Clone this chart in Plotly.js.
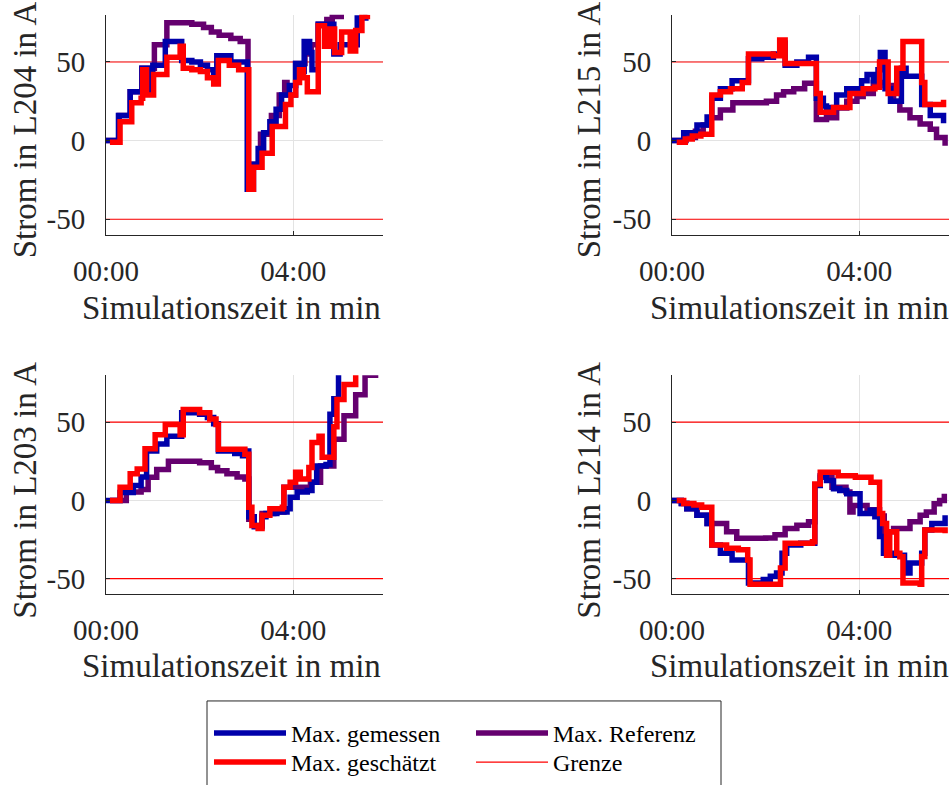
<!DOCTYPE html>
<html>
<head>
<meta charset="utf-8">
<script src="https://cdn.plot.ly/plotly-3.0.1.min.js"></script>
<style>html,body{margin:0;padding:0;background:#fff;}#chart{width:949px;height:785px;}</style>
</head>
<body>
<div id="chart"></div>
<script>
// ---------- data (time in seconds, current in A) ----------
const xTickVals = [0, 240];
const xTickText = ['00:00', '04:00'];
const yTickVals = [-50, 0, 50];
const yTickText = ['-50', '0', '50'];
const limitValues = [50, -50];
const limitSpan = [0, 360];

const seriesNames = ['Max. Referenz', 'Max. gemessen', 'Max. geschätzt', 'Grenze'];
const xTitle = 'Simulationszeit in min';
const panelTitles = ['Strom in L204 in A', 'Strom in L215 in A', 'Strom in L203 in A', 'Strom in L214 in A'];

// L204
const L204_ref_t = [0, 17, 31, 46, 62, 78, 110, 125, 135, 145, 160, 172, 182, 198, 212, 222, 229, 232, 243, 255, 263, 272, 283, 290, 305];
const L204_ref   = [0, 16, 31, 46, 61, 75, 74, 72, 69, 67, 65, 63, -15, 4, 16, 29, 37, 29, 49, 55, 61, 74, 77, 79, 79];
const L204_mes_t = [0, 16, 31, 46, 54, 60, 76, 97, 110, 121, 130, 138, 142, 160, 181, 189, 195, 202, 210, 218, 225, 235, 243, 250, 254, 261, 264, 272, 292, 300, 322, 333];
const L204_mes   = [0, 16, 31, 46, 30, 48, 63, 51, 50, 48, 45, 41, 54, 50, -31, -15, -5, 5, 12, 20, 29, 35, 49, 44, 63, 56, 45, 74, 55, 61, 78, 80];
const L204_est_t = [5, 18, 33, 45, 47, 52, 61, 78, 95, 99, 110, 121, 130, 138, 144, 158, 170, 183, 189, 200, 213, 230, 237, 243, 248, 253, 258, 272, 280, 287, 293, 302, 313, 320, 328, 335];
const L204_est   = [-1, 12, 24, 27, 45, 29, 42, 53, 60, 46, 45, 44, 40, 36, 51, 48, 45, -31, -17, -8, 9, 23, 29, 37, 45, 40, 31, 73, 60, 71, 56, 69, 57, 70, 79, 80];

// L215
const L215_ref_t = [0, 18, 30, 40, 49, 62, 78, 121, 134, 143, 156, 170, 185, 198, 211, 224, 237, 245, 258, 273, 284, 292, 305, 318, 331, 339, 350];
const L215_ref   = [0, 2, 6, 10, 14.5, 19.5, 24, 25, 29, 31, 33, 36.5, 13.5, 14.5, 20.7, 25, 28, 30, 37, 35, 25, 19.5, 14.5, 10.5, 7.3, 2, -3.3];
const L215_mes_t = [0, 15, 32, 45, 51, 62, 77, 98, 115, 130, 139, 145, 160, 175, 185, 194, 198, 203, 211, 224, 243, 250, 258, 264, 267, 273, 280, 294, 300, 320, 331, 348];
const L215_mes   = [0, 5, 10, 15, 27, 33, 38, 52, 53, 55, 62, 48, 50, 53, 27, 22, 18, 21, 29, 33, 38, 42, 38, 45, 56, 33, 25, 46, 41, 23, 16, 11];
const L215_est_t = [6, 17, 26, 37, 51, 62, 75, 90, 98, 130, 138, 145, 185, 190, 207, 228, 245, 260, 266, 277, 288, 296, 320, 324, 348];
const L215_est   = [-1, 1, 3, 4, 29, 31, 33, 37, 55, 54, 64, 49, 30, 18, 21, 30, 33, 34, 50, 30, 46, 63, 37, 23, 26];

// L203
const L203_ref_t = [5, 26, 45, 54, 65, 80, 120, 135, 143, 155, 168, 178, 183, 190, 200, 215, 228, 245, 262, 275, 292, 305, 320, 332, 349];
const L203_ref   = [0, 5.3, 7, 14.8, 19.8, 25, 24, 21, 19, 17, 15, 13.7, -12, -16, -8.4, -7.4, 8.4, 8.4, 11.6, 22, 39, 54, 67.5, 80, 80];
const L203_mes_t = [0, 18, 35, 45, 52, 65, 78, 97, 120, 130, 138, 144, 165, 175, 181, 183, 190, 200, 205, 219, 232, 236, 245, 258, 264, 270, 282, 287, 292, 298];
const L203_mes   = [0, 5, 9.5, 15, 31.6, 36, 41, 56, 55, 53, 49, 31.6, 30, 28.5, 31.6, -10.5, -16.8, -10.5, -8.4, -7.4, -5.3, 2, 5.3, 6.3, 11.6, 22, 23, 55, 65, 82];
const L203_est_t = [5, 18, 31, 40, 50, 63, 76, 91, 95, 99, 120, 133, 141, 144, 178, 183, 187, 195, 200, 210, 226, 228, 236, 243, 249, 260, 264, 273, 277, 292, 296, 305, 320];
const L203_est   = [0, 8.4, 17, 20, 33, 42, 48.5, 48.5, 42, 58, 56, 52, 48.5, 32.7, 29.5, -4.4, -16, -18, -9.5, -5.3, -4.4, 8.4, 11.6, 18, 13.7, 21, 37, 41, 27.5, 47, 64.5, 74, 82];

// L214
const L214_ref_t = [0, 12, 19, 32, 45, 70, 83, 120, 132, 145, 160, 175, 183, 190, 205, 223, 228, 232, 250, 266, 272, 284, 305, 318, 326, 336, 343, 349];
const L214_ref   = [0, -2, -5.3, -9.5, -14.8, -20, -24.1, -24, -22, -17.9, -15.8, -13.7, 10, 14.8, 8.4, 5.3, -7.4, -3.2, -6, -10, -20, -17.9, -13.7, -9.5, -7.4, -2.1, 0, 4.2];
const L214_mes_t = [0, 12, 19, 32, 45, 51, 62, 77, 98, 117, 126, 134, 141, 147, 165, 183, 190, 198, 207, 215, 224, 241, 254, 260, 266, 271, 285, 298, 305, 320, 324, 333, 343, 350];
const L214_mes   = [0, -2, -5.3, -9.5, -14.8, -28.5, -33.8, -38, -52.7, -50.6, -48.5, -46.4, -33.8, -28.5, -27.4, 9.5, 15.8, 12.7, 7.4, 6.3, 4.2, -8.4, -6.3, -10.5, -23, -33.8, -35, -46.4, -40, -33.8, -18.9, -14.8, -14.8, -9.5];
const L214_est_t = [6, 15, 28, 38, 51, 70, 85, 97, 100, 139, 145, 180, 183, 190, 213, 235, 255, 266, 270, 275, 279, 288, 292, 296, 318, 320, 324, 350];
const L214_est   = [0, -2, -3, -4.4, -28.5, -30.6, -31.6, -38, -53.6, -43.2, -27.4, -26.4, 10.5, 18, 15.8, 14.8, 11.6, -8.4, -14.8, -35, -20, -33.8, -36, -52.7, -53.6, -35.9, -18.9, -21];

// ---------- styles ----------
const colors = {ref: '#65006f', mes: '#0000aa', est: '#ff0000', lim: '#ff0000'};
const FONT = 'Liberation Serif, Times New Roman, serif';
const TXT = '#262626';

const panels = [
  {title: panelTitles[0], ref: [L204_ref_t, L204_ref], mes: [L204_mes_t, L204_mes], est: [L204_est_t, L204_est]},
  {title: panelTitles[1], ref: [L215_ref_t, L215_ref], mes: [L215_mes_t, L215_mes], est: [L215_est_t, L215_est]},
  {title: panelTitles[2], ref: [L203_ref_t, L203_ref], mes: [L203_mes_t, L203_mes], est: [L203_est_t, L203_est]},
  {title: panelTitles[3], ref: [L214_ref_t, L214_ref], mes: [L214_mes_t, L214_mes], est: [L214_est_t, L214_est]}
];

const W = 949, H = 785;
const xDomains = [[106 / W, 383 / W], [672 / W, 1], [106 / W, 383 / W], [672 / W, 1]];
const yDomains = [[1 - 238 / H, 1 - 15 / H], [1 - 238 / H, 1 - 15 / H], [1 - 602 / H, 1 - 380 / H], [1 - 602 / H, 1 - 380 / H]];
// title centres (px)
const xTitlePos = [[231, 312], [799, 312], [231, 675], [799, 675]];
const yTitlePos = [[25, 132], [589, 132], [25, 497], [589, 497]];

const traces = [];
const legendBase = {xanchor: 'left', yanchor: 'top', orientation: 'h',
  bgcolor: 'rgba(0,0,0,0)', borderwidth: 0, font: {family: FONT, size: 24, color: '#000'},
  itemwidth: 72, tracegroupgap: 0, traceorder: 'normal', entrywidth: 175, entrywidthmode: 'pixels'};
const layout = {
  width: W, height: H,
  margin: {l: 0, r: 0, t: 0, b: 0, pad: 0},
  paper_bgcolor: '#ffffff', plot_bgcolor: '#ffffff',
  font: {family: FONT, color: TXT},
  showlegend: true,
  legend: Object.assign({}, legendBase, {x: 209 / W, y: 1 - 720 / H}),
  legend2: Object.assign({}, legendBase, {x: 209 / W, y: 1 - 750 / H}),
  shapes: [{type: 'rect', xref: 'paper', yref: 'paper', x0: 207 / W, x1: 721 / W, y0: -0.05, y1: 1 - 710 / H,
            line: {color: '#262626', width: 1}, fillcolor: 'rgba(0,0,0,0)'}],
  annotations: []
};

panels.forEach((p, i) => {
  const n = i === 0 ? '' : String(i + 1);
  const xa = 'x' + n, ya = 'y' + n;
  const first = i === 0;
  traces.push({type: 'scatter', mode: 'lines', x: limitSpan.concat([null], limitSpan),
    y: [limitValues[0], limitValues[0], null, limitValues[1], limitValues[1]],
    xaxis: xa, yaxis: ya, name: seriesNames[3], legend: 'legend2', legendrank: 4, showlegend: first,
    line: {color: colors.lim, width: 1.2}, hoverinfo: 'skip'});
  traces.push({type: 'scatter', mode: 'lines', x: p.ref[0], y: p.ref[1], xaxis: xa, yaxis: ya,
    name: seriesNames[0], legend: 'legend', legendrank: 2, showlegend: first,
    line: {color: colors.ref, width: 5.5, shape: 'hv'}});
  traces.push({type: 'scatter', mode: 'lines', x: p.mes[0], y: p.mes[1], xaxis: xa, yaxis: ya,
    name: seriesNames[1], legend: 'legend', legendrank: 1, showlegend: first,
    line: {color: colors.mes, width: 5.5, shape: 'hv'}});
  traces.push({type: 'scatter', mode: 'lines', x: p.est[0], y: p.est[1], xaxis: xa, yaxis: ya,
    name: seriesNames[2], legend: 'legend2', legendrank: 3, showlegend: first,
    line: {color: colors.est, width: 5.5, shape: 'hv'}});

  layout['xaxis' + n] = {
    domain: xDomains[i], anchor: ya, range: [0, 355],
    tickmode: 'array', tickvals: xTickVals, ticktext: xTickText,
    ticks: 'inside', ticklen: 4, tickcolor: TXT, tickfont: {family: FONT, size: 29, color: TXT},
    ticklabelstandoff: 10,
    showline: true, linecolor: TXT, linewidth: 1, mirror: false,
    showgrid: true, gridcolor: '#e3e3e3', gridwidth: 1, zeroline: false
  };
  layout['yaxis' + n] = {
    domain: yDomains[i], anchor: xa, range: [-60, 80],
    tickmode: 'array', tickvals: yTickVals, ticktext: yTickText,
    ticks: 'inside', ticklen: 4, tickcolor: TXT, tickfont: {family: FONT, size: 29, color: TXT},
    ticklabelstandoff: 14,
    showline: true, linecolor: TXT, linewidth: 1, mirror: false,
    showgrid: true, gridcolor: '#e3e3e3', gridwidth: 1, zeroline: false
  };
  layout.annotations.push({xref: 'paper', yref: 'paper', x: xTitlePos[i][0] / W, y: 1 - xTitlePos[i][1] / H,
    xanchor: 'center', yanchor: 'middle', showarrow: false, text: xTitle,
    font: {family: FONT, size: 33, color: TXT}});
  layout.annotations.push({xref: 'paper', yref: 'paper', x: yTitlePos[i][0] / W, y: 1 - yTitlePos[i][1] / H,
    xanchor: 'center', yanchor: 'middle', showarrow: false, text: p.title, textangle: -90,
    font: {family: FONT, size: 33, color: TXT}});
});

Plotly.newPlot('chart', traces, layout, {staticPlot: true, displayModeBar: false});
</script>
</body>
</html>
